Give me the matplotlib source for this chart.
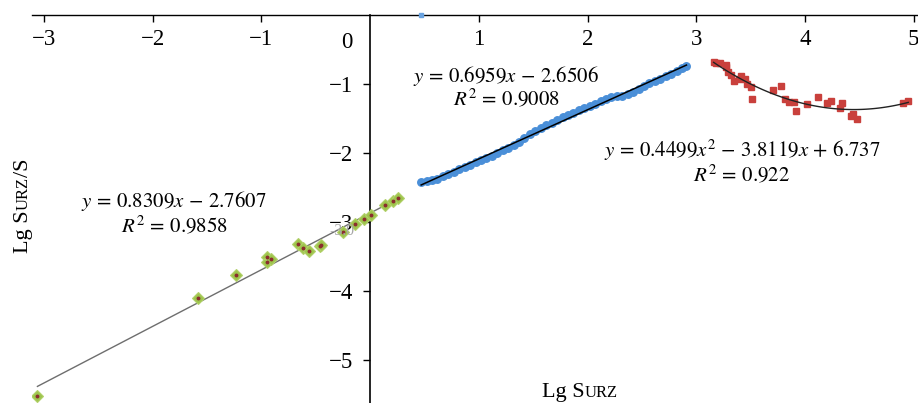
import numpy as np
import matplotlib
matplotlib.use('Agg')
import matplotlib.pyplot as plt

# ---- data ----
green_x = [-3.06, -1.58, -1.23, -0.95, -0.95, -0.91, -0.66, -0.62, -0.56, -0.46,
           -0.45, -0.25, -0.14, -0.06, 0.01, 0.14, 0.21, 0.26]
green_y = [-5.52, -4.10, -3.76, -3.50, -3.58, -3.54, -3.31, -3.38, -3.42, -3.34,
           -3.33, -3.14, -3.03, -2.95, -2.89, -2.75, -2.70, -2.65]

blue_x = [0.47, 0.52, 0.57, 0.62, 0.67, 0.72, 0.77, 0.82, 0.87, 0.92,
          0.97, 1.02, 1.07, 1.12, 1.17, 1.22, 1.27, 1.32, 1.37, 1.42,
          1.47, 1.52, 1.57, 1.62, 1.67, 1.72, 1.77, 1.82, 1.87, 1.92,
          1.97, 2.02, 2.07, 2.12, 2.17, 2.22, 2.27, 2.32, 2.37, 2.42,
          2.47, 2.52, 2.57, 2.62, 2.67, 2.72, 2.77, 2.82, 2.87, 2.91]
blue_y = [-2.42, -2.41, -2.39, -2.37, -2.33, -2.30, -2.27, -2.23, -2.20, -2.17,
          -2.13, -2.10, -2.07, -2.04, -2.00, -1.96, -1.92, -1.88, -1.84, -1.78,
          -1.73, -1.68, -1.64, -1.60, -1.56, -1.52, -1.48, -1.45, -1.42, -1.38,
          -1.35, -1.32, -1.29, -1.25, -1.22, -1.19, -1.18, -1.17, -1.15, -1.11,
          -1.07, -1.03, -0.99, -0.95, -0.92, -0.88, -0.85, -0.81, -0.77, -0.74]
blue_out_x = [0.47]
blue_out_y = [0.0]

red_x = [3.16, 3.18, 3.22, 3.27, 3.27, 3.29, 3.32, 3.35, 3.39, 3.41,
         3.45, 3.47, 3.50, 3.51, 3.71, 3.78, 3.82, 3.85, 3.90, 3.92,
         4.02, 4.12, 4.20, 4.24, 4.32, 4.34, 4.42, 4.44, 4.48, 4.90, 4.95]
red_y = [-0.68, -0.70, -0.69, -0.72, -0.76, -0.83, -0.87, -0.96, -0.92, -0.89,
         -0.93, -1.00, -1.05, -1.21, -1.08, -1.03, -1.22, -1.26, -1.26, -1.39,
         -1.29, -1.19, -1.28, -1.25, -1.34, -1.28, -1.47, -1.44, -1.50, -1.28, -1.24]

x_ticks = [-3, -2, -1, 1, 2, 3, 4, 5]
y_ticks = [-1, -2, -3, -4, -5]

eq_green = (r'$y\,=\,0.8309x\,-\,2.7607$', r'$R^2\,=\,0.9858$')
eq_blue = (r'$y\,=\,0.6959x\,-\,2.6506$', r'$R^2\,=\,0.9008$')
eq_red = (r'$y\,=\,0.4499x^2\,-\,3.8119x\,+\,6.737$', r'$R^2\,=\,0.922$')

plt.rcParams['font.family'] = ['Liberation Serif', 'DejaVu Serif']
plt.rcParams['mathtext.fontset'] = 'stix'

W, H = 918, 403
fig = plt.figure(figsize=(W / 100, H / 100), dpi=100)
ax = fig.add_axes([32 / W, 0, (W - 32) / W, (H - 15) / H])
ax.set_xlim(-3.11, 5.04)
ax.set_ylim(-5.62, 0)

for s in ['top', 'right']:
    ax.spines[s].set_visible(False)
ax.spines['bottom'].set_position(('data', 0))
ax.spines['left'].set_position(('data', 0))
ax.spines['bottom'].set_linewidth(1.0)
ax.spines['left'].set_linewidth(1.2)

ax.set_xticks(x_ticks)
ax.set_xticklabels([f'{v}' if v >= 0 else f'−{abs(v)}' for v in x_ticks])
ax.set_yticks(y_ticks)
ax.set_yticklabels([f'−{abs(v)}' for v in y_ticks])
ax.tick_params(axis='x', direction='out', length=5, width=1, labelsize=16.5, pad=5)
ax.tick_params(axis='y', direction='out', length=5, width=1, labelsize=16.5, pad=7)

# scatter series
ax.plot(green_x, green_y, linestyle='none', marker='D', markersize=6,
        markerfacecolor='#9DC44C', markeredgecolor='#B2D16A', markeredgewidth=0.8, zorder=3)
ax.plot(green_x, green_y, linestyle='none', marker='o', markersize=1.8,
        color='#8B2E2E', zorder=4)
ax.plot(blue_x, blue_y, linestyle='none', marker='o', markersize=5.4,
        color='#4A8FD8', zorder=3)
ax.plot(blue_out_x, blue_out_y, linestyle='none', marker='s', markersize=3.5,
        color='#6AA3E0', zorder=3, clip_on=False)
ax.plot(red_x, red_y, linestyle='none', marker='s', markersize=5,
        color='#C9403C', zorder=3)

# trend lines (fitted from the data)
gx = np.linspace(min(green_x), max(green_x) + 0.02, 50)
ax.plot(gx, np.polyval(np.polyfit(green_x, green_y, 1), gx), color='#6E6E6E', lw=1.0, zorder=2)
bx = np.linspace(min(blue_x), max(blue_x), 50)
ax.plot(bx, np.polyval(np.polyfit(blue_x, blue_y, 1), bx), color='black', lw=1.1, zorder=4)
rx = np.linspace(min(red_x), max(red_x), 80)
ax.plot(rx, np.polyval(np.polyfit(red_x, red_y, 2), rx), color='#222222', lw=1.0, zorder=4)

fs_eq = 15
for (l1, l2), (cx, y1, y2) in [(eq_green, (174, 201, 226)),
                                (eq_blue, (506, 76, 99)),
                                (eq_red, (742, 150, 175))]:
    fig.text(cx / W, 1 - y1 / H, l1, ha='center', va='center', fontsize=fs_eq)
    fig.text(cx / W, 1 - y2 / H, l2, ha='center', va='center', fontsize=fs_eq)

# "0" label and faint "-3.0"
fig.text(353 / W, 1 - 42 / H, '0', ha='right', va='center', fontsize=16.5)
fig.text(342 / W, 1 - 231 / H, '-3.0', ha='center', va='center', fontsize=11.5, color='#A8A8A8')

# axis labels with small caps pieces
fig.canvas.draw()
renderer = fig.canvas.get_renderer()

def chain(pieces, x0, y0, rotation):
    x, y = x0, y0
    for txt, size in pieces:
        t = fig.text(x, y, txt, fontsize=size, rotation=rotation, rotation_mode='anchor',
                     ha='left', va='baseline')
        bb = t.get_window_extent(renderer)
        if rotation == 0:
            x = x + bb.width / W
        else:
            y = y + bb.height / H

chain([('Lg S', 16), ('URZ', 12)], 542 / W, 1 - 397 / H, 0)
chain([('Lg S', 16), ('URZ', 12), ('/S', 16)], 28 / W, 1 - 253 / H, 90)

fig.savefig('out.png', dpi=100)
